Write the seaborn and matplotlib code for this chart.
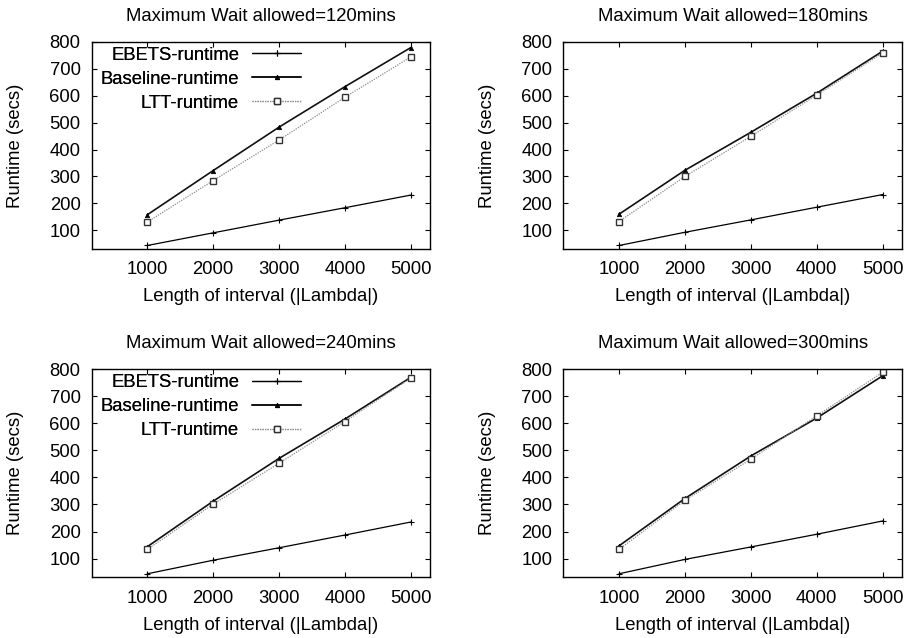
import matplotlib
matplotlib.use("Agg")
import matplotlib.pyplot as plt
import seaborn as sns
import pandas as pd

sns.set_style("ticks")
plt.rcParams['font.family'] = ['Liberation Sans', 'DejaVu Sans']
plt.rcParams['text.color'] = 'black'
plt.rcParams['axes.labelcolor'] = 'black'

interval = [1000, 2000, 3000, 4000, 5000]
titles = ["Maximum Wait allowed=120mins", "Maximum Wait allowed=180mins",
          "Maximum Wait allowed=240mins", "Maximum Wait allowed=300mins"]
series_names = ["EBETS-runtime", "Baseline-runtime", "LTT-runtime"]

ebets_120 = [44, 91, 138, 184, 231]
base_120 = [158, 322, 483, 633, 778]
ltt_120 = [131, 285, 435, 594, 743]

ebets_180 = [44, 93, 139, 186, 233]
base_180 = [160, 323, 464, 609, 765]
ltt_180 = [133, 300, 449, 602, 758]

ebets_240 = [44, 94, 140, 187, 235]
base_240 = [144, 312, 470, 615, 769]
ltt_240 = [134, 301, 452, 606, 766]

ebets_300 = [44, 97, 143, 190, 239]
base_300 = [147, 322, 479, 619, 775]
ltt_300 = [134, 315, 467, 627, 788]

panels = [
    (ebets_120, base_120, ltt_120),
    (ebets_180, base_180, ltt_180),
    (ebets_240, base_240, ltt_240),
    (ebets_300, base_300, ltt_300),
]
yticks = [100, 200, 300, 400, 500, 600, 700, 800]

styles = [
    dict(color="black", marker="+", markersize=5, markeredgewidth=0.8,
         markeredgecolor="black", linewidth=0.9, linestyle="-"),
    dict(color="#111111", marker="^", markersize=3.2, markeredgewidth=0.5,
         markeredgecolor="black", markerfacecolor="black",
         linewidth=1.2, linestyle="-"),
    dict(color="#8a8a8a", marker="s", markersize=4.5, markeredgewidth=1.0,
         markerfacecolor="white", markeredgecolor="#333333",
         linewidth=0.9, linestyle=(0, (1, 1))),
]

W, H = 912, 638
fig = plt.figure(figsize=(W / 100, H / 100), dpi=100)
boxes = [
    (91.7, 41.7, 430, 249),
    (563.3, 41.7, 902, 249),
    (91.7, 369, 430, 577.3),
    (563.3, 369, 902, 577.3),
]
FS = 13.3
for i, (vals, title, box) in enumerate(zip(panels, titles, boxes)):
    l, t, r, b = box
    ax = fig.add_axes([l / W, 1 - b / H, (r - l) / W, (b - t) / H])
    for name, y, st in zip(series_names, vals, styles):
        df = pd.DataFrame({"x": interval, "y": y})
        sns.lineplot(data=df, x="x", y="y", ax=ax, label=name, **st)
    ax.set_xlim(155, 5293)
    ax.set_ylim(31, 800)
    ax.set_xticks(interval)
    ax.set_yticks(yticks)
    ax.tick_params(direction="in", length=3.5, width=0.8, top=True, right=True,
                   labelsize=FS, colors="black")
    ax.tick_params(axis="x", pad=9)
    ax.tick_params(axis="y", pad=8)
    for sp in ax.spines.values():
        sp.set_linewidth(1.0)
        sp.set_color("black")
    ax.set_title(title, fontsize=FS, pad=15, color="black")
    ax.set_xlabel("Length of interval (|Lambda|)", fontsize=FS)
    ax.set_ylabel("Runtime (secs)", fontsize=FS)
    ax.xaxis.set_label_coords(0.5, -0.19)
    ax.yaxis.set_label_coords(-0.2, 0.5)
    leg = ax.legend(loc="upper right", bbox_to_anchor=((301 - l) / (r - l), 1 - 5 / (b - t)),
                    frameon=False, markerfirst=False, fontsize=FS,
                    handlelength=2.65, handletextpad=0.7, labelspacing=0.38,
                    borderpad=0, borderaxespad=0)

fig.savefig("out.png", dpi=100)
